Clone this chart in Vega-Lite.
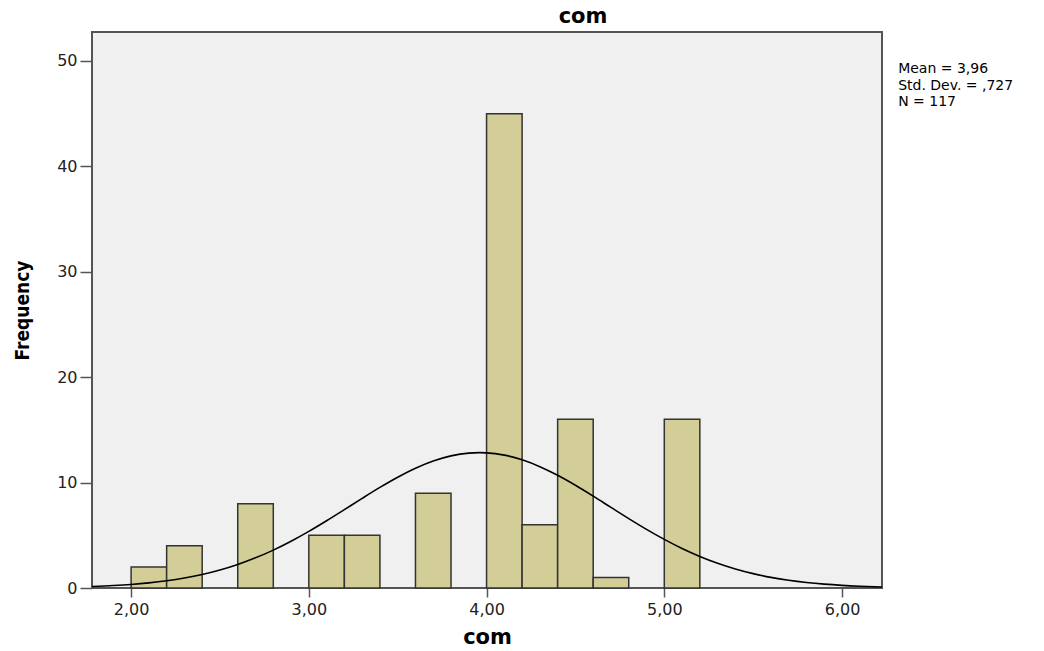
{
  "$schema": "https://vega.github.io/schema/vega-lite/v6.json",
  "width": 790,
  "height": 556,
  "autosize": {"type": "none"},
  "padding": {"left": 92, "top": 32, "right": 162, "bottom": 63},
  "background": "white",
  "title": {"text": "com", "fontSize": 21, "font": "DejaVu Sans", "fontWeight": "bold", "color": "black", "anchor": "middle", "frame": "group", "dx": 96, "offset": 5},
  "datasets": {
    "bins": [
      {"bin_start": 2.0, "bin_end": 2.2, "count": 2},
      {"bin_start": 2.2, "bin_end": 2.4, "count": 4},
      {"bin_start": 2.6, "bin_end": 2.8, "count": 8},
      {"bin_start": 3.0, "bin_end": 3.2, "count": 5},
      {"bin_start": 3.2, "bin_end": 3.4, "count": 5},
      {"bin_start": 3.6, "bin_end": 3.8, "count": 9},
      {"bin_start": 4.0, "bin_end": 4.2, "count": 45},
      {"bin_start": 4.2, "bin_end": 4.4, "count": 6},
      {"bin_start": 4.4, "bin_end": 4.6, "count": 16},
      {"bin_start": 4.6, "bin_end": 4.8, "count": 1},
      {"bin_start": 5.0, "bin_end": 5.2, "count": 16}
    ],
    "curve": [
      {"x": 1.78, "y": 0.14}, {"x": 1.9, "y": 0.232}, {"x": 2.0, "y": 0.339}, {"x": 2.1, "y": 0.487},
      {"x": 2.2, "y": 0.685}, {"x": 2.3, "y": 0.947}, {"x": 2.4, "y": 1.284}, {"x": 2.5, "y": 1.709},
      {"x": 2.6, "y": 2.232}, {"x": 2.7, "y": 2.86}, {"x": 2.8, "y": 3.595}, {"x": 2.9, "y": 4.436},
      {"x": 3.0, "y": 5.37}, {"x": 3.1, "y": 6.378}, {"x": 3.2, "y": 7.434}, {"x": 3.3, "y": 8.504},
      {"x": 3.4, "y": 9.544}, {"x": 3.5, "y": 10.511}, {"x": 3.6, "y": 11.358}, {"x": 3.7, "y": 12.044},
      {"x": 3.8, "y": 12.533}, {"x": 3.9, "y": 12.796}, {"x": 3.96, "y": 12.84}, {"x": 4.0, "y": 12.821},
      {"x": 4.1, "y": 12.604}, {"x": 4.2, "y": 12.159}, {"x": 4.3, "y": 11.51}, {"x": 4.4, "y": 10.691},
      {"x": 4.5, "y": 9.744}, {"x": 4.6, "y": 8.716}, {"x": 4.7, "y": 7.649}, {"x": 4.8, "y": 6.587},
      {"x": 4.9, "y": 5.566}, {"x": 5.0, "y": 4.615}, {"x": 5.1, "y": 3.755}, {"x": 5.2, "y": 2.998},
      {"x": 5.3, "y": 2.349}, {"x": 5.4, "y": 1.805}, {"x": 5.5, "y": 1.362}, {"x": 5.6, "y": 1.008},
      {"x": 5.7, "y": 0.732}, {"x": 5.8, "y": 0.522}, {"x": 5.9, "y": 0.365}, {"x": 6.0, "y": 0.25},
      {"x": 6.1, "y": 0.169}, {"x": 6.225, "y": 0.1}
    ],
    "stats": [
      {"label": "Mean = 3,96\nStd. Dev. = ,727\nN = 117"}
    ]
  },
  "layer": [
    {
      "data": {"name": "bins"},
      "mark": {"type": "rect", "fill": "#d3ce97", "stroke": "#333333", "strokeWidth": 1.5},
      "encoding": {
        "x": {"field": "bin_start", "type": "quantitative", "title": "com",
              "scale": {"domain": [1.78, 6.225], "nice": false, "zero": false},
              "axis": {"values": [2, 3, 4, 5, 6], "labelExpr": "replace(format(datum.value, '.2f'), '.', ',')", "tickSize": 9, "labelPadding": 4, "titlePadding": 9}},
        "x2": {"field": "bin_end"},
        "y": {"field": "count", "type": "quantitative", "title": "Frequency",
              "scale": {"domain": [0, 52.75], "nice": false},
              "axis": {"values": [0, 10, 20, 30, 40, 50], "tickSize": 12, "labelPadding": 3, "titlePadding": 24,
                       "titleFont": "DejaVu Sans Condensed", "titleFontSize": 19}}
      }
    },
    {
      "data": {"name": "curve"},
      "mark": {"type": "line", "color": "black", "strokeWidth": 1.6, "interpolate": "monotone"},
      "encoding": {
        "x": {"field": "x", "type": "quantitative", "title": "com"},
        "y": {"field": "y", "type": "quantitative", "title": "Frequency"}
      }
    },
    {
      "data": {"name": "stats"},
      "mark": {"type": "text", "clip": false, "align": "left", "baseline": "alphabetic", "font": "DejaVu Sans", "fontSize": 14, "lineHeight": 16.5, "lineBreak": "\n", "color": "black"},
      "encoding": {
        "x": {"datum": 6.316, "type": "quantitative", "title": "com"},
        "y": {"datum": 48.85, "type": "quantitative", "title": "Frequency"},
        "text": {"field": "label"}
      }
    }
  ],
  "config": {
    "view": {"fill": "#f0f0f0", "stroke": "#555555", "strokeWidth": 2},
    "axis": {
      "grid": false,
      "domain": false,
      "tickColor": "#555555",
      "tickWidth": 1.5,
      "labelFont": "DejaVu Sans",
      "labelFontSize": 16,
      "labelColor": "#222222",
      "titleFont": "DejaVu Sans",
      "titleFontSize": 21,
      "titleFontWeight": "bold",
      "titleColor": "black"
    }
  }
}
